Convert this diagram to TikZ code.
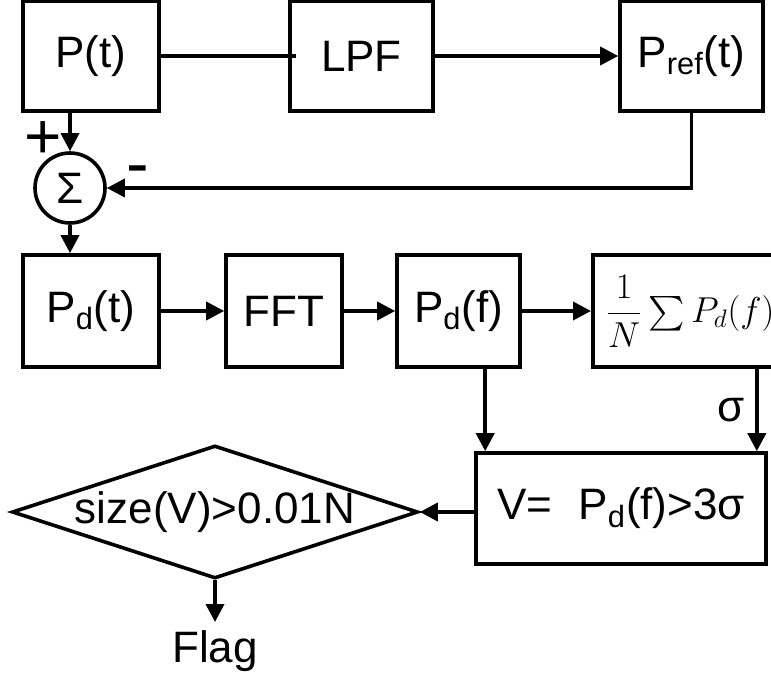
\RequirePackage{fix-cm}
\documentclass[tikz,border=0pt]{standalone}
\usepackage{amsmath}
\usepackage[no-math]{fontspec}
\setmainfont{Liberation Sans}
\usetikzlibrary{arrows.meta, shapes.geometric}
\newcommand{\blockfont}{\fontsize{22}{26}\selectfont}
\newcommand{\plusfont}{\fontsize{32}{36}\selectfont}
\newcommand{\minusfont}{\fontsize{34}{38}\selectfont}
\newcommand{\avgfont}{\fontsize{18}{21}\selectfont}

\begin{document}
\begin{tikzpicture}[x=0.5pt, y=-0.5pt,
    blockbox/.style={draw, line width=1.8pt, minimum height=55.5pt, inner sep=0pt, font=\blockfont},
    flowline/.style={line width=1.8pt},
    flowarrow/.style={flowline, -{Triangle[length=9pt, width=9pt]}}]
  \useasboundingbox (0,0) rectangle (771,678);
  \clip (0,0) rectangle (771,678);
  % top row
  \node[blockbox, minimum width=68pt, minimum height=55pt] (pt) at (91,56) {P(t)};
  \node[blockbox, minimum width=71.5pt, minimum height=55pt] (lpf) at (361.5,56) {LPF};
  \node[blockbox, minimum width=71.5pt, minimum height=55pt] (pref) at (691.5,56) {P\textsubscript{ref}(t)};
  \node[draw, circle, line width=1.8pt, minimum size=35pt, inner sep=0pt, font=\blockfont] (sum) at (70,188) {Σ};
  \node[font=\plusfont, anchor=base, inner sep=0pt] (plus) at (43,158.5) {+};
  \node[font=\minusfont, anchor=base, inner sep=0pt] (minus) at (137.5,187) {-};
  % middle row
  \node[blockbox, minimum width=68pt, minimum height=56pt] (pdt) at (91,311) {P\textsubscript{d}(t)};
  \node[blockbox, minimum width=58pt, minimum height=56pt] (fft) at (284,311) {FFT};
  \node[blockbox, minimum width=61.5pt, minimum height=56pt] (pdf) at (458.5,311) {P\textsubscript{d}(f)};
  \node[blockbox, anchor=west, minimum height=56pt, inner xsep=6.5pt, text width=100pt,
        align=left] (avg) at (591,311) {\avgfont$\dfrac{1}{N}\sum P_d(f)$};
  % bottom row
  \node[blockbox, minimum width=145pt] (vbox) at (621,508.5) {V=\hspace{0.6em}P\textsubscript{d}(f)>3σ};
  \node[draw, diamond, line width=1.8pt, aspect=3.05, inner sep=0pt, minimum width=203pt,
        minimum height=66.5pt, font=\blockfont] (dia) at (215,512) {size(V)>0.01N};
  \node[font=\blockfont, anchor=north, inner sep=4pt] (flag) at (215,622) {Flag};
  % connectors
  \draw[flowline] (pt.east) -- ([xshift=4pt]lpf.west);
  \draw[flowarrow] (lpf) -- (pref);
  \draw[flowarrow] (pt.south -| sum) -- (sum);
  \draw[flowarrow] (pref.south) |- (sum);
  \draw[flowarrow] (sum) -- (pdt.north -| sum);
  \draw[flowarrow] (pdt) -- (fft);
  \draw[flowarrow] (fft) -- (pdf);
  \draw[flowarrow] (pdf) -- (avg);
  \draw[flowarrow] ([xshift=5.5pt]vbox.north west |- pdf.south) -- ([xshift=5.5pt]vbox.north west);
  \draw[flowarrow] ([xshift=-5.5pt]vbox.north east |- avg.south) -- node[left, xshift=-2pt, font=\blockfont] {σ}
        ([xshift=-5.5pt]vbox.north east);
  \draw[flowarrow] (vbox.west |- dia) -- (dia);
  \draw[flowarrow] (dia) -- (flag);
\end{tikzpicture}
\end{document}
